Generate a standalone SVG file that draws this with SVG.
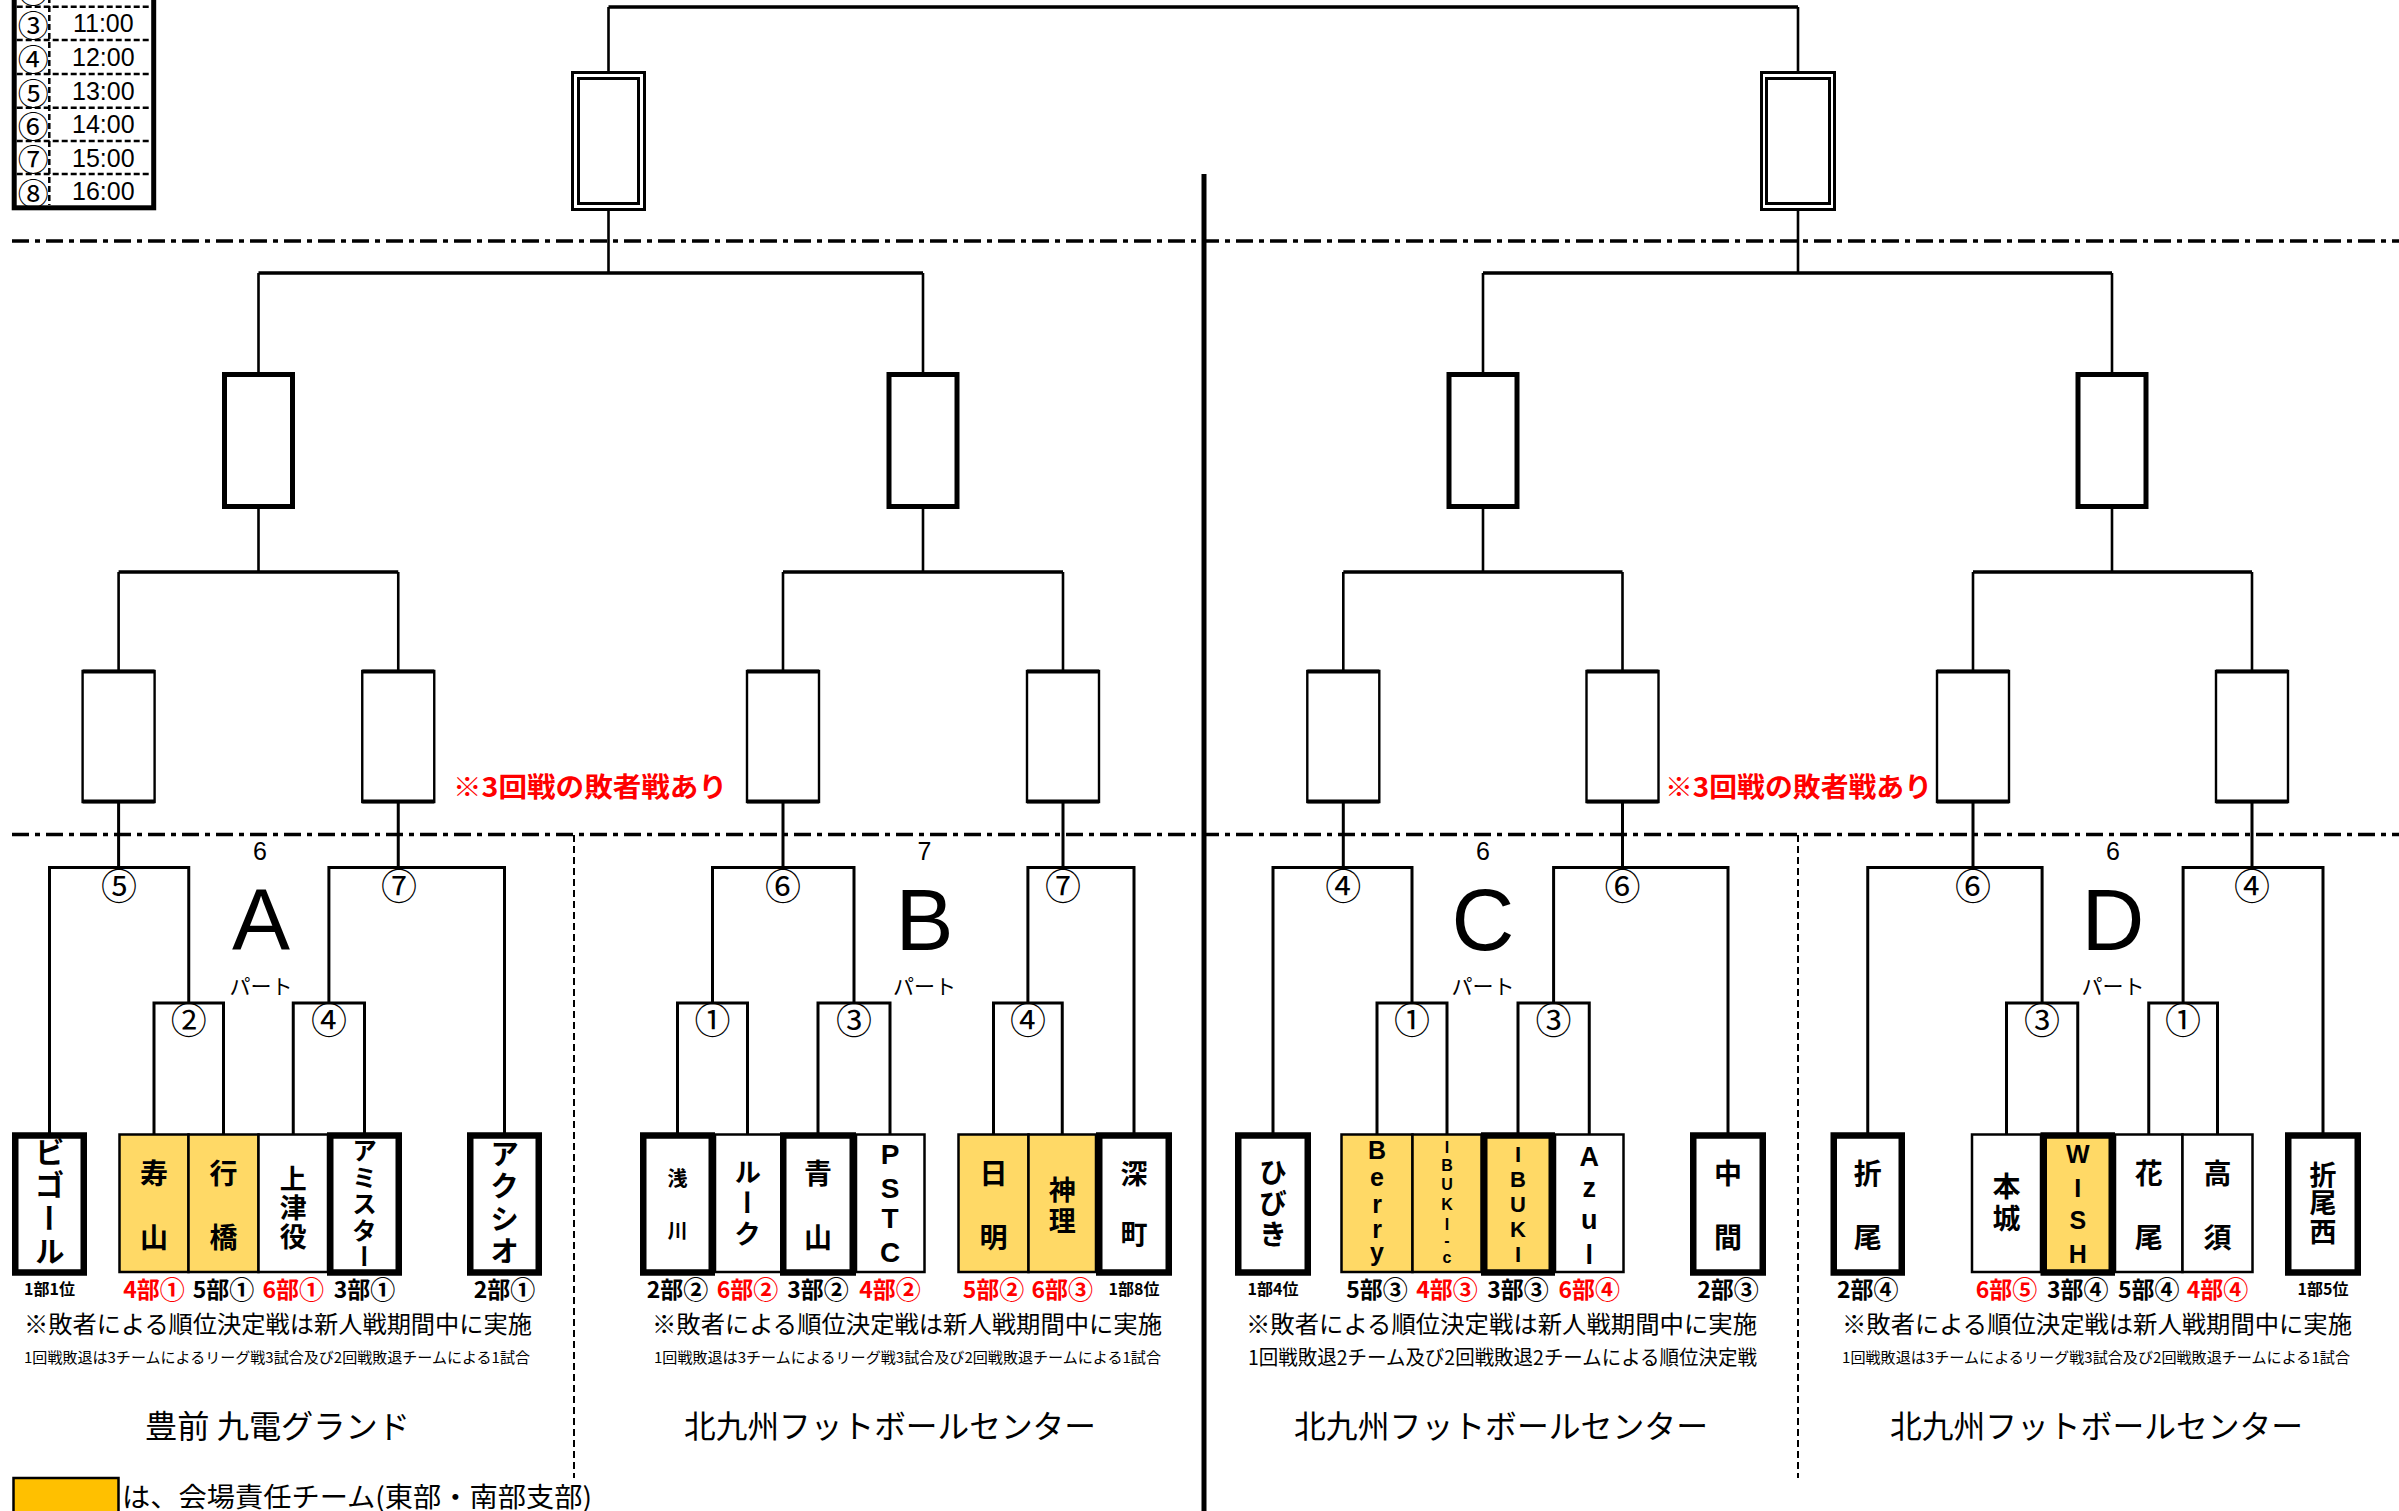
<svg xmlns="http://www.w3.org/2000/svg" width="2399" height="1511" viewBox="0 0 2399 1511">
<style>
.c{fill:none;stroke:#000;stroke-width:2.6}
.ch{fill:none;stroke:#000;stroke-width:3.4}
.pb{fill:none;stroke:#000;stroke-width:3}
.dd{fill:none;stroke:#000;stroke-width:3.5;stroke-dasharray:17 6 5 6}
.dv{fill:none;stroke:#000;stroke-width:2;stroke-dasharray:7 4}
.b3{fill:#fff;stroke:#000;stroke-width:2.4}
.b3e{fill:none;stroke:#000;stroke-width:4}
.b2{fill:#fff;stroke:#000;stroke-width:5}
.bf{fill:#fff;stroke:#000;stroke-width:3}
.tw{fill:#fff;stroke:#000;stroke-width:2.5}
.ty{fill:#FFD966;stroke:#000;stroke-width:2.5}
.tk{fill:#fff;stroke:#000;stroke-width:6.5}
.tky{fill:#FFD966;stroke:#000;stroke-width:6.5}
.jp{font-family:"Noto Sans CJK JP","Noto Sans",sans-serif}
.la{font-family:"Liberation Sans",Arial,sans-serif}
.nm{font-family:"Noto Sans CJK JP","Noto Sans",sans-serif;font-weight:700;text-anchor:middle;dominant-baseline:central;font-size:28px}
.ln{font-family:"Liberation Sans",Arial,sans-serif;font-weight:700;text-anchor:middle}
.vt{font-family:"Noto Sans CJK JP","Noto Sans",sans-serif;font-weight:700;writing-mode:vertical-rl}
.cn{font-family:"Noto Sans CJK JP","Noto Sans",sans-serif;font-size:36px;text-anchor:middle;dominant-baseline:central}
.lb{font-family:"Noto Sans CJK JP","Noto Sans",sans-serif;font-weight:700;font-size:23px;text-anchor:middle;dominant-baseline:central}
.lb tspan{font-size:25px}
.ls{font-family:"Noto Sans CJK JP","Noto Sans",sans-serif;font-weight:700;font-size:16px;text-anchor:middle;dominant-baseline:central}
.red{fill:#FF0000}
.n1{font-family:"Noto Sans CJK JP","Noto Sans",sans-serif;font-size:24px;dominant-baseline:central}
.n2{font-family:"Noto Sans CJK JP","Noto Sans",sans-serif;font-size:15px;dominant-baseline:central}
.vn{font-family:"Noto Sans CJK JP","Noto Sans",sans-serif;font-size:32px;dominant-baseline:central}
.big{font-family:"Liberation Sans",Arial,sans-serif;font-size:87px;text-anchor:middle}
.pt{font-family:"Noto Sans CJK JP","Noto Sans",sans-serif;font-size:21px;text-anchor:middle;dominant-baseline:central}
.sn{font-family:"Liberation Sans",Arial,sans-serif;font-size:25px;text-anchor:middle;dominant-baseline:central}
.rt{font-family:"Noto Sans CJK JP","Noto Sans",sans-serif;font-weight:700;font-size:27px;fill:#FF0000;dominant-baseline:central}
</style>
<rect x="0" y="0" width="2399" height="1511" fill="#fff"/>

<g id="schedule">
<rect x="14.2" y="-30" width="139.5" height="237.8" fill="#fff" stroke="#000" stroke-width="5"/>
<path d="M49.3,-30 V205 M16.7,6.7 H150.7 M16.7,40 H150.7 M16.7,74 H150.7 M16.7,107.7 H150.7 M16.7,141 H150.7 M16.7,174 H150.7" fill="none" stroke="#000" stroke-width="2.5" stroke-dasharray="6 3"/>
<g class="jp" font-size="31" text-anchor="middle" dominant-baseline="central">
<text x="33.3" y="-11">②</text>
<text x="33.3" y="23.4">③</text>
<text x="33.3" y="57">④</text>
<text x="33.3" y="91">⑤</text>
<text x="33.3" y="124.4">⑥</text>
<text x="33.3" y="157.5">⑦</text>
<text x="33.3" y="191">⑧</text>
</g>
<g class="la" font-size="25" text-anchor="middle" dominant-baseline="central">
<text x="103.3" y="-11">10:00</text>
<text x="103.3" y="23.4">11:00</text>
<text x="103.3" y="57">12:00</text>
<text x="103.3" y="91">13:00</text>
<text x="103.3" y="124.4">14:00</text>
<text x="103.3" y="157.5">15:00</text>
<text x="103.3" y="191">16:00</text>
</g>
</g>

<g id="dividers">
<path class="dd" d="M12,241 H2399 M12,834.5 H2399"/>
<path class="dv" d="M574,835 V1478 M1798,835 V1478"/>
<path d="M1204,174 V1511" stroke="#000" stroke-width="5" fill="none"/>
</g>

<g id="connectors">
<path class="ch" d="M608.5,7 H1798 M258.5,273 H923 M1483,273 H2112 M118.6,572 H398.25 M783,572 H1063 M1343.3,572 H1622.5 M1973,572 H2252"/>
<path class="c" d="M608.5,7 V72 M1798,7 V72 M608.5,211 V273 M1798,211 V273 M258.5,273 V374 M923,273 V374 M1483,273 V374 M2112,273 V374 M258.5,509 V572 M923,509 V572 M1483,509 V572 M2112,509 V572"/>
<path class="c" d="M118.6,572 V671 M398.25,572 V671 M783,572 V671 M1063,572 V671 M1343.3,572 V671 M1622.5,572 V671 M1973,572 V671 M2252,572 V671"/>
<path class="pb" d="M118.6,802 V867.5 M398.25,802 V867.5 M783,802 V867.5 M1063,802 V867.5 M1343.3,802 V867.5 M1622.5,802 V867.5 M1973,802 V867.5 M2252,802 V867.5"/>
<path class="pb" d="M49.5,1133 V867.5 H188.75 V1003 M154,1134 V1003 H223.5 V1134 M328.9,1003 V867.5 H504.5 V1133 M293.25,1134 V1003 H364.5 V1133"/>
<path class="pb" d="M677.5,1133 V1003 H747.5 V1134 M818,1133 V1003 H890 V1134 M712.5,1003 V867.5 H854 V1003 M993.5,1134 V1003 H1062.25 V1134 M1027.9,1003 V867.5 H1134 V1133"/>
<path class="pb" d="M1273,1133 V867.5 H1412 V1003 M1377,1134 V1003 H1447 V1134 M1553.6,1003 V867.5 H1728 V1133 M1518,1133 V1003 H1589.25 V1134"/>
<path class="pb" d="M1867.75,1133 V867.5 H2042.1 V1003 M2006.5,1134 V1003 H2077.75 V1133 M2183.1,1003 V867.5 H2323 V1133 M2148.75,1134 V1003 H2217.5 V1134"/>
</g>

<g id="final-left"><rect class="bf" x="572.5" y="72.5" width="72" height="137"/><rect class="bf" x="578.5" y="78.5" width="60" height="125"/></g>
<g id="final-right"><rect class="bf" x="1761.5" y="72.5" width="73" height="137"/><rect class="bf" x="1766.5" y="78.5" width="63" height="125"/></g>

<g id="semi-1"><rect class="b2" x="224.5" y="374.5" width="68" height="132"/></g>
<g id="semi-2"><rect class="b2" x="889" y="374.5" width="68" height="132"/></g>
<g id="semi-3"><rect class="b2" x="1449" y="374.5" width="68" height="132"/></g>
<g id="semi-4"><rect class="b2" x="2078" y="374.5" width="68" height="132"/></g>

<g id="qf-1"><rect class="b3" x="82.6" y="671" width="72" height="131"/><path class="b3e" d="M82.6,671.5 H154.6 M82.6,801.5 H154.6"/></g>
<g id="qf-2"><rect class="b3" x="362.25" y="671" width="72" height="131"/><path class="b3e" d="M362.25,671.5 H434.25 M362.25,801.5 H434.25"/></g>
<g id="qf-3"><rect class="b3" x="747" y="671" width="72" height="131"/><path class="b3e" d="M747,671.5 H819 M747,801.5 H819"/></g>
<g id="qf-4"><rect class="b3" x="1027" y="671" width="72" height="131"/><path class="b3e" d="M1027,671.5 H1099 M1027,801.5 H1099"/></g>
<g id="qf-5"><rect class="b3" x="1307.3" y="671" width="72" height="131"/><path class="b3e" d="M1307.3,671.5 H1379.3 M1307.3,801.5 H1379.3"/></g>
<g id="qf-6"><rect class="b3" x="1586.5" y="671" width="72" height="131"/><path class="b3e" d="M1586.5,671.5 H1658.5 M1586.5,801.5 H1658.5"/></g>
<g id="qf-7"><rect class="b3" x="1937" y="671" width="72" height="131"/><path class="b3e" d="M1937,671.5 H2009 M1937,801.5 H2009"/></g>
<g id="qf-8"><rect class="b3" x="2216" y="671" width="72" height="131"/><path class="b3e" d="M2216,671.5 H2288 M2216,801.5 H2288"/></g>

<text class="rt" x="453" y="785" textLength="274" lengthAdjust="spacingAndGlyphs">※3回戦の敗者戦あり</text>
<text class="rt" x="1665" y="785" textLength="267" lengthAdjust="spacingAndGlyphs">※3回戦の敗者戦あり</text>

<!-- PART A -->
<g id="part-A">
<text class="sn" x="260" y="851">6</text>
<text class="big" x="261" y="950">A</text>
<text class="pt" x="261" y="985">パート</text>
<text class="cn" x="119" y="884">⑤</text>
<text class="cn" x="188.75" y="1018">②</text>
<text class="cn" x="399" y="884">⑦</text>
<text class="cn" x="329" y="1018">④</text>
</g>
<g id="team-ko"><rect class="ty" x="119.5" y="1134.5" width="69" height="137.5"/><text class="nm"><tspan x="154" y="1172">寿</tspan><tspan x="154" y="1236">山</tspan></text></g>
<g id="team-yukuhashi"><rect class="ty" x="188.5" y="1134.5" width="70" height="137.5"/><text class="nm"><tspan x="223.5" y="1172">行</tspan><tspan x="223.5" y="1236">橋</tspan></text></g>
<g id="team-kozakushi"><rect class="tw" x="258.5" y="1134.5" width="69.5" height="137.5"/><text class="nm" style="font-size:27px"><tspan x="293.25" y="1177">上</tspan><tspan x="293.25" y="1206">津</tspan><tspan x="293.25" y="1235">役</tspan></text></g>
<g id="team-bigoal"><rect class="tk" x="15.25" y="1135.5" width="68.5" height="137"/><text class="vt" x="49.5" y="1137" style="font-size:30px;letter-spacing:3px">ビゴール</text></g>
<g id="team-amistar"><rect class="tk" x="330.25" y="1135.5" width="68.5" height="137"/><text class="vt" x="364.5" y="1138" style="font-size:25px;letter-spacing:1.5px">アミスター</text></g>
<g id="team-axio"><rect class="tk" x="470.25" y="1135.5" width="68.5" height="137"/><text class="vt" x="504.5" y="1139" style="font-size:29px;letter-spacing:3.5px">アクシオ</text></g>
<g id="labels-A">
<text class="ls" x="49.5" y="1288">1部1位</text>
<text class="lb red" x="154" y="1288">4部<tspan>①</tspan></text>
<text class="lb" x="223.5" y="1288">5部<tspan>①</tspan></text>
<text class="lb red" x="293.25" y="1288">6部<tspan>①</tspan></text>
<text class="lb" x="364.5" y="1288">3部<tspan>①</tspan></text>
<text class="lb" x="504.5" y="1288">2部<tspan>①</tspan></text>
<text class="n1" x="24" y="1322" textLength="508" lengthAdjust="spacingAndGlyphs">※敗者による順位決定戦は新人戦期間中に実施</text>
<text class="n2" x="24" y="1356" textLength="506" lengthAdjust="spacingAndGlyphs">1回戦敗退は3チームによるリーグ戦3試合及び2回戦敗退チームによる1試合</text>
<text class="vn" x="145" y="1424" textLength="265" lengthAdjust="spacingAndGlyphs">豊前 九電グランド</text>
</g>

<!-- PART B -->
<g id="part-B">
<text class="sn" x="924.5" y="851">7</text>
<text class="big" x="924.5" y="950">B</text>
<text class="pt" x="924.5" y="985">パート</text>
<text class="cn" x="783" y="884">⑥</text>
<text class="cn" x="712.5" y="1018">①</text>
<text class="cn" x="854" y="1018">③</text>
<text class="cn" x="1063" y="884">⑦</text>
<text class="cn" x="1028" y="1018">④</text>
</g>
<g id="team-rook"><rect class="tw" x="715" y="1134.5" width="67" height="137.5"/><text class="vt" x="747.5" y="1158" style="font-size:27px;letter-spacing:4px">ルーク</text></g>
<g id="team-pstc"><rect class="tw" x="856" y="1134.5" width="68.5" height="137.5"/><text class="ln" style="font-size:28px"><tspan x="890" y="1164">P</tspan><tspan x="890" y="1198">S</tspan><tspan x="890" y="1228">T</tspan><tspan x="890" y="1262">C</tspan></text></g>
<g id="team-hiagari"><rect class="ty" x="958.5" y="1134.5" width="70" height="137.5"/><text class="nm"><tspan x="993.5" y="1172">日</tspan><tspan x="993.5" y="1236">明</tspan></text></g>
<g id="team-shinri"><rect class="ty" x="1028.5" y="1134.5" width="67.5" height="137.5"/><text class="nm" style="font-size:27px"><tspan x="1062.25" y="1188">神</tspan><tspan x="1062.25" y="1219">理</tspan></text></g>
<g id="team-asakawa"><rect class="tk" x="643.25" y="1135.5" width="68.5" height="137"/><text class="nm" style="font-size:20px"><tspan x="677.5" y="1177">浅</tspan><tspan x="677.5" y="1229">川</tspan></text></g>
<g id="team-aoyama"><rect class="tk" x="783.25" y="1135.5" width="69.5" height="137"/><text class="nm"><tspan x="818" y="1172">青</tspan><tspan x="818" y="1236">山</tspan></text></g>
<g id="team-fukamachi"><rect class="tk" x="1099.25" y="1135.5" width="69.5" height="137"/><text class="nm" style="font-size:27px"><tspan x="1134" y="1172">深</tspan><tspan x="1134" y="1232">町</tspan></text></g>
<g id="labels-B">
<text class="lb" x="677.5" y="1288">2部<tspan>②</tspan></text>
<text class="lb red" x="747.5" y="1288">6部<tspan>②</tspan></text>
<text class="lb" x="818" y="1288">3部<tspan>②</tspan></text>
<text class="lb red" x="890" y="1288">4部<tspan>②</tspan></text>
<text class="lb red" x="993.5" y="1288">5部<tspan>②</tspan></text>
<text class="lb red" x="1062.25" y="1288">6部<tspan>③</tspan></text>
<text class="ls" x="1134" y="1288">1部8位</text>
<text class="n1" x="652" y="1322" textLength="510" lengthAdjust="spacingAndGlyphs">※敗者による順位決定戦は新人戦期間中に実施</text>
<text class="n2" x="654" y="1356" textLength="507" lengthAdjust="spacingAndGlyphs">1回戦敗退は3チームによるリーグ戦3試合及び2回戦敗退チームによる1試合</text>
<text class="vn" x="684" y="1424" textLength="412" lengthAdjust="spacingAndGlyphs">北九州フットボールセンター</text>
</g>

<!-- PART C -->
<g id="part-C">
<text class="sn" x="1483" y="851">6</text>
<text class="big" x="1483" y="950">C</text>
<text class="pt" x="1483" y="985">パート</text>
<text class="cn" x="1343.3" y="884">④</text>
<text class="cn" x="1412" y="1018">①</text>
<text class="cn" x="1622.5" y="884">⑥</text>
<text class="cn" x="1553.6" y="1018">③</text>
</g>
<g id="team-berry"><rect class="ty" x="1341.5" y="1134.5" width="71" height="137.5"/><text class="ln" style="font-size:25px"><tspan x="1377" y="1159">B</tspan><tspan x="1377" y="1185.5">e</tspan><tspan x="1377" y="1212.5">r</tspan><tspan x="1377" y="1237.5">r</tspan><tspan x="1377" y="1261">y</tspan></text></g>
<g id="team-ibuki-c"><rect class="ty" x="1412.5" y="1134.5" width="69" height="137.5"/><text class="ln" style="font-size:16px"><tspan x="1447" y="1153">I</tspan><tspan x="1447" y="1171">B</tspan><tspan x="1447" y="1190">U</tspan><tspan x="1447" y="1210">K</tspan><tspan x="1447" y="1229.5">I</tspan><tspan x="1447" y="1246">-</tspan><tspan x="1447" y="1263">c</tspan></text></g>
<g id="team-azul"><rect class="tw" x="1555" y="1134.5" width="68.5" height="137.5"/><text class="ln" style="font-size:27px"><tspan x="1589.25" y="1165.5">A</tspan><tspan x="1589.25" y="1197">z</tspan><tspan x="1589.25" y="1229">u</tspan><tspan x="1589.25" y="1263.5">l</tspan></text></g>
<g id="team-hibiki"><rect class="tk" x="1238.25" y="1135.5" width="69.5" height="137"/><text class="vt" x="1273" y="1158" style="font-size:28px;letter-spacing:3px">ひびき</text></g>
<g id="team-ibuki"><rect class="tky" x="1484.25" y="1135.5" width="67.5" height="137"/><text class="ln" style="font-size:22px"><tspan x="1518" y="1162">I</tspan><tspan x="1518" y="1187">B</tspan><tspan x="1518" y="1212">U</tspan><tspan x="1518" y="1237">K</tspan><tspan x="1518" y="1262">I</tspan></text></g>
<g id="team-nakama"><rect class="tk" x="1693.25" y="1135.5" width="69.5" height="137"/><text class="nm"><tspan x="1728" y="1172">中</tspan><tspan x="1728" y="1236">間</tspan></text></g>
<g id="labels-C">
<text class="ls" x="1273" y="1288">1部4位</text>
<text class="lb" x="1377" y="1288">5部<tspan>③</tspan></text>
<text class="lb red" x="1447" y="1288">4部<tspan>③</tspan></text>
<text class="lb" x="1518" y="1288">3部<tspan>③</tspan></text>
<text class="lb red" x="1589.25" y="1288">6部<tspan>④</tspan></text>
<text class="lb" x="1728" y="1288">2部<tspan>③</tspan></text>
<text class="n1" x="1246" y="1322" textLength="511" lengthAdjust="spacingAndGlyphs">※敗者による順位決定戦は新人戦期間中に実施</text>
<text class="n1" x="1248" y="1356" style="font-size:20px" textLength="509" lengthAdjust="spacingAndGlyphs">1回戦敗退2チーム及び2回戦敗退2チームによる順位決定戦</text>
<text class="vn" x="1294" y="1424" textLength="414" lengthAdjust="spacingAndGlyphs">北九州フットボールセンター</text>
</g>

<!-- PART D -->
<g id="part-D">
<text class="sn" x="2113" y="851">6</text>
<text class="big" x="2113" y="950">D</text>
<text class="pt" x="2113" y="985">パート</text>
<text class="cn" x="1973" y="884">⑥</text>
<text class="cn" x="2042.1" y="1018">③</text>
<text class="cn" x="2252" y="884">④</text>
<text class="cn" x="2183.1" y="1018">①</text>
</g>
<g id="team-honjo"><rect class="tw" x="1972" y="1134.5" width="69" height="137.5"/><text class="vt" x="2006.5" y="1172" style="font-size:28px;letter-spacing:4px">本城</text></g>
<g id="team-hanao"><rect class="tw" x="2115" y="1134.5" width="67.5" height="137.5"/><text class="nm"><tspan x="2148.75" y="1172">花</tspan><tspan x="2148.75" y="1236">尾</tspan></text></g>
<g id="team-takasu"><rect class="tw" x="2182.5" y="1134.5" width="70" height="137.5"/><text class="nm"><tspan x="2217.5" y="1172">高</tspan><tspan x="2217.5" y="1236">須</tspan></text></g>
<g id="team-orio"><rect class="tk" x="1833.75" y="1135.5" width="68" height="137"/><text class="nm"><tspan x="1867.75" y="1172">折</tspan><tspan x="1867.75" y="1236">尾</tspan></text></g>
<g id="team-wish"><rect class="tky" x="2043.75" y="1135.5" width="68" height="137"/><text class="ln" style="font-size:25px"><tspan x="2077.75" y="1163">W</tspan><tspan x="2077.75" y="1197">I</tspan><tspan x="2077.75" y="1229">S</tspan><tspan x="2077.75" y="1263">H</tspan></text></g>
<g id="team-orionishi"><rect class="tk" x="2288.25" y="1135.5" width="69.5" height="137"/><text class="vt" x="2323" y="1161" style="font-size:27px;letter-spacing:1.5px">折尾西</text></g>
<g id="labels-D">
<text class="lb" x="1867.75" y="1288">2部<tspan>④</tspan></text>
<text class="lb red" x="2006.5" y="1288">6部<tspan>⑤</tspan></text>
<text class="lb" x="2077.75" y="1288">3部<tspan>④</tspan></text>
<text class="lb" x="2148.75" y="1288">5部<tspan>④</tspan></text>
<text class="lb red" x="2217.5" y="1288">4部<tspan>④</tspan></text>
<text class="ls" x="2323" y="1288">1部5位</text>
<text class="n1" x="1842" y="1322" textLength="510" lengthAdjust="spacingAndGlyphs">※敗者による順位決定戦は新人戦期間中に実施</text>
<text class="n2" x="1842" y="1356" textLength="508" lengthAdjust="spacingAndGlyphs">1回戦敗退は3チームによるリーグ戦3試合及び2回戦敗退チームによる1試合</text>
<text class="vn" x="1890" y="1424" textLength="413" lengthAdjust="spacingAndGlyphs">北九州フットボールセンター</text>
</g>

<g id="legend">
<rect x="13.5" y="1478" width="105" height="40" fill="#FFC000" stroke="#000" stroke-width="2.5"/>
<text class="jp" x="122" y="1495" style="font-size:27px;dominant-baseline:central" textLength="470" lengthAdjust="spacingAndGlyphs">は、会場責任チーム(東部・南部支部)</text>
</g>
</svg>
